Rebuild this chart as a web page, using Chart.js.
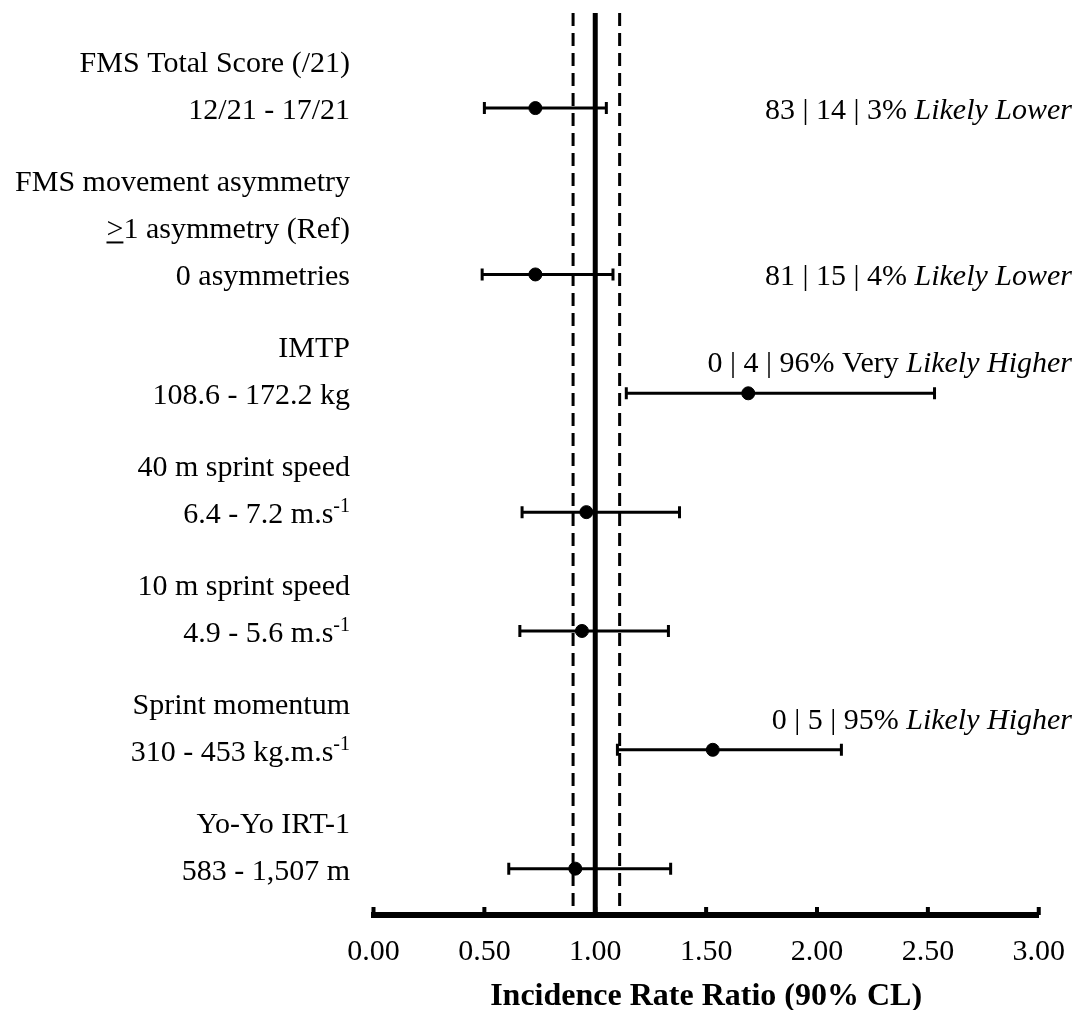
<!DOCTYPE html>
<html>
<head>
<meta charset="utf-8">
<script src="https://cdn.jsdelivr.net/npm/chart.js@4.4.1/dist/chart.umd.min.js"></script>
<style>
  body { margin: 0; background: #fff; }
</style>
</head>
<body>
<canvas id="forest" width="1084" height="1010"></canvas>
<script>
const SERIF = "'Liberation Serif', 'Times New Roman', serif";
Chart.defaults.font.family = SERIF;
Chart.defaults.font.size = 30;
Chart.defaults.color = "#000";

// left labels, one list of lines per row (^ = superscript to end, _x_ = underlined)
const rowLabels = [
    ["FMS Total Score (/21)", "12/21 - 17/21"],
    ["FMS movement asymmetry", "_>_1 asymmetry (Ref)", "0 asymmetries"],
    ["IMTP", "108.6 - 172.2 kg"],
    ["40 m sprint speed", "6.4 - 7.2 m.s^-1"],
    ["10 m sprint speed", "4.9 - 5.6 m.s^-1"],
    ["Sprint momentum", "310 - 453 kg.m.s^-1"],
    ["Yo-Yo IRT-1", "583 - 1,507 m"]
];
const rowPos = [0, 1.4, 2.4, 3.4, 4.4, 5.4, 6.4];
const irr = [0.73, 0.73, 1.69, 0.96, 0.94, 1.53, 0.91];
const clLow = [0.50, 0.49, 1.14, 0.67, 0.66, 1.10, 0.61];
const clHigh = [1.05, 1.08, 2.53, 1.38, 1.33, 2.11, 1.34];
// lower | trivial | higher chances, *...* = italic
const inference = [
    "83 | 14 | 3% *Likely Lower*",
    "81 | 15 | 4% *Likely Lower*",
    "0 | 4 | 96% Very *Likely Higher*",
    "", "",
    "0 | 5 | 95% *Likely Higher*",
    ""
];
const inferenceAbove = [false, false, true, false, false, true, false];
const xTicks = [0, 0.5, 1, 1.5, 2, 2.5, 3];
const nullValue = 1.0;
const trivialBounds = [0.90, 1.11];

function segments(str) {
    const out = [];
    const re = /\*([^*]+)\*|_([^_]+)_|\^(.+)$|([^*_^]+)/g;
    let m;
    while ((m = re.exec(str))) {
        if (m[1]) out.push({ t: m[1], it: true });
        else if (m[2]) out.push({ t: m[2], u: true });
        else if (m[3]) out.push({ t: m[3], sup: true });
        else out.push({ t: m[4] });
    }
    return out;
}

function fontFor(s) {
    return (s.it ? "italic " : "") + (s.sup ? "20px " : "30px ") + SERIF;
}

// right-aligned rich text, y is the baseline
function drawRich(ctx, str, xRight, y) {
    const segs = segments(str);
    let w = 0;
    segs.forEach((s) => {
        ctx.font = fontFor(s);
        s.w = ctx.measureText(s.t).width;
        w += s.w;
    });
    let x = xRight - w;
    ctx.textAlign = "left";
    ctx.textBaseline = "alphabetic";
    segs.forEach((s) => {
        ctx.font = fontFor(s);
        ctx.fillText(s.t, x, s.sup ? y - 11 : y);
        if (s.u) ctx.fillRect(x, y + 3, s.w, 2);
        x += s.w;
    });
}

const forestPlugin = {
    id: "forest",
    beforeDatasetsDraw(chart) {
        const ctx = chart.ctx;
        const xs = chart.scales.x;
        const ys = chart.scales.y;
        const area = chart.chartArea;
        ctx.save();
        ctx.strokeStyle = "#000";

        // trivial zone, dashed
        ctx.lineWidth = 3;
        ctx.setLineDash([13, 7]);
        trivialBounds.forEach((v) => {
            const x = xs.getPixelForValue(v);
            ctx.beginPath();
            ctx.moveTo(x, area.top);
            ctx.lineTo(x, area.bottom);
            ctx.stroke();
        });
        ctx.setLineDash([]);

        // null line
        ctx.lineWidth = 5;
        const x1 = xs.getPixelForValue(nullValue);
        ctx.beginPath();
        ctx.moveTo(x1, area.top);
        ctx.lineTo(x1, area.bottom);
        ctx.stroke();

        // confidence limits with caps
        ctx.lineWidth = 3;
        irr.forEach((v, i) => {
            const y = ys.getPixelForValue(rowPos[i]);
            const a = xs.getPixelForValue(clLow[i]);
            const b = xs.getPixelForValue(clHigh[i]);
            ctx.beginPath();
            ctx.moveTo(a, y);
            ctx.lineTo(b, y);
            ctx.moveTo(a, y - 6);
            ctx.lineTo(a, y + 6);
            ctx.moveTo(b, y - 6);
            ctx.lineTo(b, y + 6);
            ctx.stroke();
        });
        ctx.restore();
    },
    afterDraw(chart) {
        const ctx = chart.ctx;
        const xs = chart.scales.x;
        const ys = chart.scales.y;
        const area = chart.chartArea;
        ctx.save();
        ctx.fillStyle = "#000";

        // tick marks point up into the plot
        xs.ticks.forEach((t) => {
            const x = xs.getPixelForValue(t.value);
            ctx.fillRect(x - 2, area.bottom - 8, 4, 8);
        });

        const lineStep = 47;
        rowLabels.forEach((lines, i) => {
            const y = ys.getPixelForValue(rowPos[i]) + 11;
            lines.forEach((line, k) => {
                drawRich(ctx, line, 350, y - (lines.length - 1 - k) * lineStep);
            });
            if (inference[i]) {
                const yy = inferenceAbove[i] ? y - 32 : y;
                drawRich(ctx, inference[i], 1072, yy);
            }
        });
        ctx.restore();
    }
};

new Chart(document.getElementById("forest").getContext("2d"), {
    type: "scatter",
    data: {
        datasets: [{
            data: irr.map((v, i) => ({ x: v, y: rowPos[i] })),
            backgroundColor: "#000",
            borderColor: "#000",
            pointRadius: 6.5,
            pointHoverRadius: 6.5
        }]
    },
    options: {
        responsive: false,
        animation: false,
        layout: {
            padding: { left: 373.5, right: 43.5, top: 13, bottom: 0 }
        },
        plugins: {
            legend: { display: false },
            tooltip: { enabled: false }
        },
        scales: {
            x: {
                type: "linear",
                min: 0,
                max: 3,
                afterBuildTicks: (s) => { s.ticks = xTicks.map((v) => ({ value: v })); },
                grid: { display: false, drawTicks: false },
                border: { display: true, width: 6, color: "#000" },
                ticks: {
                    padding: 19,
                    color: "#000",
                    font: { size: 30 },
                    maxRotation: 0,
                    callback: (v) => Number(v).toFixed(2)
                },
                title: {
                    display: true,
                    text: "Incidence Rate Ratio (90% CL)",
                    color: "#000",
                    font: { size: 32, weight: "bold", lineHeight: 0.5 },
                    padding: { top: 0, bottom: 5 }
                }
            },
            y: {
                type: "linear",
                reverse: true,
                min: -0.8,
                max: 6.79,
                display: false
            }
        }
    },
    plugins: [forestPlugin]
});
</script>
</body>
</html>
